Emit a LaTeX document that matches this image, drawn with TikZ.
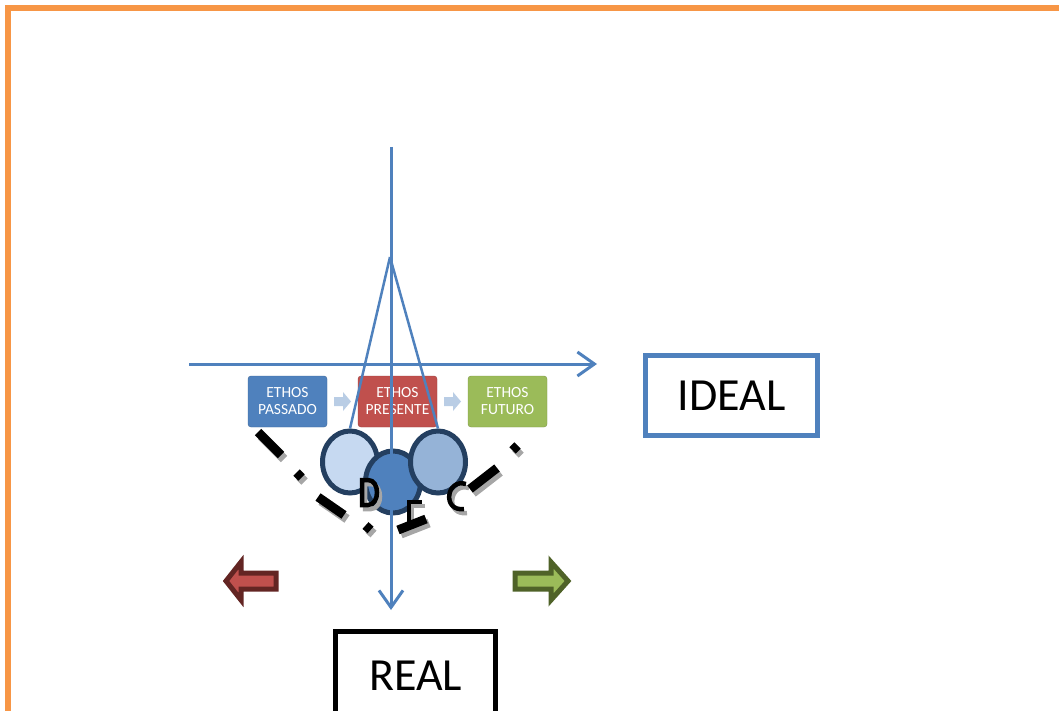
\documentclass[tikz,border=0pt]{standalone}
\usepackage{fontspec}
\setmainfont{Carlito}
\usetikzlibrary{shapes}
\usetikzlibrary{arrows.meta}
\usetikzlibrary{positioning}
\definecolor{axisblue}{HTML}{4F81BD}
\definecolor{ethosred}{HTML}{C0504D}
\definecolor{ethosgreen}{HTML}{9BBB59}
\definecolor{bubbleedge}{HTML}{243F60}
\definecolor{bubblelight}{HTML}{C6D9F1}
\definecolor{bubblemid}{HTML}{95B3D7}
\definecolor{frameorange}{HTML}{F79646}
\definecolor{paleblue}{HTML}{B9CDE5}
\definecolor{darkred}{HTML}{632523}
\definecolor{darkgreen}{HTML}{4F6228}
\tikzstyle{axis}=[-{Straight Barb[length=17pt,width=24pt]}, line width=3pt, axisblue]
\tikzstyle{ethos}=[rectangle, rounded corners=3pt, minimum width=79pt, minimum height=51pt,
  inner sep=0pt, text=white, align=center, font=\fontsize{15.5}{17}\selectfont]
\tikzstyle{bubble}=[ellipse, draw=bubbleedge, line width=5pt, minimum width=55pt, minimum height=62pt]
\tikzstyle{label box}=[rectangle, line width=5pt, inner sep=0pt, font=\fontsize{46}{50}\selectfont]
\tikzstyle{bar}=[line width=9pt]
\tikzstyle{glyph}=[line width=4.5pt]
\tikzset{every picture/.style={
    x=1pt, y=-1pt
  }
}
\begin{document}
\begin{tikzpicture}
        \clip (0,0) rectangle (1059,711);
        \draw[frameorange, line width=6pt] (8,720) -- (8,8) -- (1070,8);
        % the three ethos boxes
        \node[ethos, fill=axisblue, draw=axisblue!80!black] at (287.5,401.5) (passado) {ETHOS\\PASSADO};
        \node[ethos, fill=ethosred, draw=ethosred!80!black] at (397.5,401.5) (presente) {ETHOS\\PRESENTE};
        \node[ethos, fill=ethosgreen, draw=ethosgreen!80!black] at (507.5,401.5) (futuro) {ETHOS\\FUTURO};
        \foreach \x in {334,444}
          \fill[paleblue] (\x,397) -- (\x+9,397) -- (\x+9,392) -- (\x+17,401.5) -- (\x+9,411) -- (\x+9,406) -- (\x,406) -- cycle;
        % bubbles
        \node[bubble, fill=bubblelight] at (350,462) (cleft) {};
        \node[bubble, fill=axisblue] at (393,482) (cmid) {};
        \node[bubble, fill=bubblemid] at (438,462) (cright) {};
        % broken arc under the bubbles
        \foreach \sx/\sy in {3/4, 0/0} {
          \begin{scope}[shift={(\sx,\sy)}]
            \ifnum\sx=0 \tikzset{every path/.style={black}} \else \tikzset{every path/.style={black!35}} \fi
            \foreach \xa/\ya/\xb/\yb in {258/432/281/455, 296.5/472.5/301.5/477.5, 318/497/344/515,
                365.5/525.5/370.5/530, 398/530/426/519, 470/489/497/468, 512.5/450.5/517.5/445.5}
              \draw[bar] (\xa,\ya) -- (\xb,\yb);
            \draw[glyph] (362,480) -- (368,480) .. controls (380,480) and (380,505) .. (368,505) -- (362,505) -- cycle;
            \draw[glyph] (422,502) -- (409,502) -- (409,528);
            \draw[glyph] (466,484) .. controls (446,478) and (442,512) .. (464,509);
          \end{scope}
        }
        % axes
        \coordinate (apex) at (390,257);
        \coordinate (top) at (391,147);
        \coordinate (bottom) at (391,610);
        \coordinate (west) at (189,364);
        \coordinate (east) at (597,364);
        \draw[axisblue, line width=2.5pt] (apex) -- (cleft.north);
        \draw[axisblue, line width=2.5pt] (apex) -- (cright.north);
        \draw[axis] (top) -- (bottom);
        \draw[axis] (west) -- (east);
        % side arrows
        \draw[line width=5pt, draw=darkred, fill=ethosred] (226,581) -- (241,562) -- (241,573) -- (276,573)
          -- (276,589) -- (241,589) -- (241,600) -- cycle;
        \draw[line width=5pt, draw=darkgreen, fill=ethosgreen] (568,581) -- (551,562) -- (551,573) -- (515,573)
          -- (515,589) -- (551,589) -- (551,600) -- cycle;
        \node[label box, draw=axisblue, minimum width=172pt, minimum height=80pt] at (731.5,395.5) (ideal) {IDEAL};
        \node[label box, draw=black, minimum width=160pt, minimum height=88pt] at (415.5,675.5) (real) {REAL};
      \end{tikzpicture}
\end{document}
